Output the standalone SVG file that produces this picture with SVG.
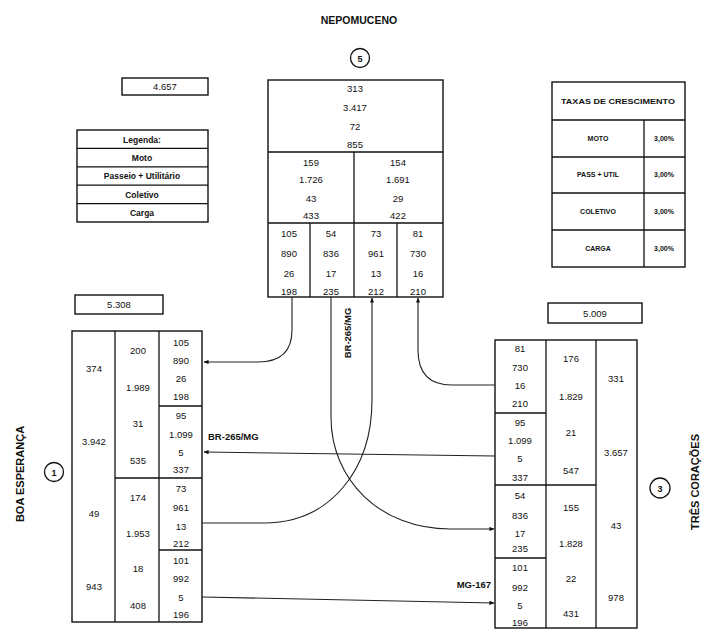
<svg xmlns="http://www.w3.org/2000/svg" width="709" height="633" viewBox="0 0 709 633">
<style>
.bx{fill:none;stroke:#111;stroke-width:1.4}
.ln{stroke:#111;stroke-width:1.3;fill:none}
.cn{stroke:#222;stroke-width:1.1;fill:none}
text{font-family:"Liberation Sans",Arial,sans-serif;fill:#111;text-anchor:middle}
.n{font-size:9.5px}
.b{font-weight:bold}
.lg{font-size:8.5px;font-weight:bold}
.tx{font-size:7px;font-weight:bold}
.city{font-size:11px;font-weight:bold}
</style>
<defs>
<marker id="ar" viewBox="0 0 6 6" refX="5.5" refY="3" markerWidth="5" markerHeight="5" orient="auto" markerUnits="userSpaceOnUse">
<path d="M0,0.5 L6,3 L0,5.5 z" fill="#111"/>
</marker>
</defs>
<rect width="709" height="633" fill="#fff"/>

<g id="nepomuceno">
<text x="359" y="24" class="b" style="font-size:10.5px">NEPOMUCENO</text>
<circle cx="360" cy="58" r="9.5" class="ln" stroke-width="1"/>
<text x="360" y="61.5" class="b" style="font-size:9px">5</text>
<rect x="268" y="80" width="175" height="217" class="bx"/>
<line x1="268" y1="152" x2="443" y2="152" class="ln"/>
<line x1="268" y1="223" x2="443" y2="223" class="ln"/>
<line x1="354" y1="152" x2="354" y2="297" class="ln"/>
<line x1="310" y1="223" x2="310" y2="297" class="ln"/>
<line x1="397" y1="223" x2="397" y2="297" class="ln"/>
<g class="n">
<text x="355" y="92">313</text><text x="355" y="111">3.417</text><text x="355" y="130">72</text><text x="355" y="148">855</text>
<text x="311" y="166">159</text><text x="311" y="183">1.726</text><text x="311" y="202">43</text><text x="311" y="219">433</text>
<text x="398" y="166">154</text><text x="398" y="183">1.691</text><text x="398" y="202">29</text><text x="398" y="219">422</text>
<text x="289" y="237">105</text><text x="289" y="257">890</text><text x="289" y="277">26</text><text x="289" y="295">198</text>
<text x="331" y="237">54</text><text x="331" y="257">836</text><text x="331" y="277">17</text><text x="331" y="295">235</text>
<text x="376" y="237">73</text><text x="376" y="257">961</text><text x="376" y="277">13</text><text x="376" y="295">212</text>
<text x="418" y="237">81</text><text x="418" y="257">730</text><text x="418" y="277">16</text><text x="418" y="295">210</text>
</g>
</g>

<g id="total-nepomuceno">
<rect x="122" y="78" width="86" height="17" class="bx"/>
<text x="165" y="90" class="n">4.657</text>
</g>

<g id="legenda">
<rect x="77" y="130" width="131" height="92" class="bx"/>
<line x1="77" y1="148.4" x2="208" y2="148.4" class="ln"/>
<line x1="77" y1="166.8" x2="208" y2="166.8" class="ln"/>
<line x1="77" y1="185.2" x2="208" y2="185.2" class="ln"/>
<line x1="77" y1="203.6" x2="208" y2="203.6" class="ln"/>
<text x="142" y="142.5" class="lg">Legenda:</text>
<text x="142" y="160.8" class="lg">Moto</text>
<text x="142" y="179.2" class="lg">Passeio + Utilitário</text>
<text x="142" y="197.6" class="lg">Coletivo</text>
<text x="142" y="216" class="lg">Carga</text>
</g>

<g id="taxas">
<rect x="552" y="82" width="133" height="185" class="bx"/>
<line x1="552" y1="120" x2="685" y2="120" class="ln"/>
<line x1="552" y1="157" x2="685" y2="157" class="ln"/>
<line x1="552" y1="193" x2="685" y2="193" class="ln"/>
<line x1="552" y1="230" x2="685" y2="230" class="ln"/>
<line x1="644" y1="120" x2="644" y2="267" class="ln"/>
<text x="618" y="104" class="tx" textLength="114" lengthAdjust="spacingAndGlyphs">TAXAS DE CRESCIMENTO</text>
<text x="598" y="141" class="tx">MOTO</text><text x="664" y="141" class="tx">3,00%</text>
<text x="598" y="177" class="tx">PASS + UTIL</text><text x="664" y="177" class="tx">3,00%</text>
<text x="598" y="214" class="tx">COLETIVO</text><text x="664" y="214" class="tx">3,00%</text>
<text x="598" y="251" class="tx">CARGA</text><text x="664" y="251" class="tx">3,00%</text>
</g>

<g id="boa-esperanca">
<text transform="translate(24,474) rotate(-90)" class="city">BOA ESPERANÇA</text>
<circle cx="54" cy="472" r="9.5" class="ln" stroke-width="1"/>
<text x="54" y="475.5" class="b" style="font-size:9px">1</text>
<rect x="75" y="295" width="88" height="19" class="bx"/>
<text x="119" y="308" class="n">5.308</text>
<rect x="72" y="331" width="130" height="291" class="bx"/>
<line x1="115" y1="331" x2="115" y2="622" class="ln"/>
<line x1="159" y1="331" x2="159" y2="622" class="ln"/>
<line x1="159" y1="406" x2="202" y2="406" class="ln"/>
<line x1="115" y1="478" x2="202" y2="478" class="ln"/>
<line x1="159" y1="550" x2="202" y2="550" class="ln"/>
<g class="n">
<text x="94" y="372">374</text><text x="94" y="445">3.942</text><text x="94" y="517">49</text><text x="94" y="590">943</text>
<text x="138" y="354">200</text><text x="138" y="391">1.989</text><text x="138" y="427">31</text><text x="138" y="464">535</text>
<text x="138" y="501">174</text><text x="138" y="537">1.953</text><text x="138" y="572">18</text><text x="138" y="609">408</text>
<text x="181" y="346">105</text><text x="181" y="364">890</text><text x="181" y="382">26</text><text x="181" y="400">198</text>
<text x="181" y="419">95</text><text x="181" y="438">1.099</text><text x="181" y="456">5</text><text x="181" y="473">337</text>
<text x="181" y="492">73</text><text x="181" y="511">961</text><text x="181" y="530">13</text><text x="181" y="547">212</text>
<text x="181" y="564">101</text><text x="181" y="582">992</text><text x="181" y="601">5</text><text x="181" y="618">196</text>
</g>
</g>

<g id="tres-coracoes">
<text transform="translate(699,482) rotate(-90)" class="city">TRÊS CORAÇÕES</text>
<circle cx="660" cy="488" r="10" class="ln" stroke-width="1"/>
<text x="660" y="491.5" class="b" style="font-size:9px">3</text>
<rect x="548" y="303" width="94" height="20" class="bx"/>
<text x="595" y="317" class="n">5.009</text>
<rect x="495" y="340" width="142" height="288" class="bx"/>
<line x1="546" y1="340" x2="546" y2="628" class="ln"/>
<line x1="596" y1="340" x2="596" y2="628" class="ln"/>
<line x1="495" y1="413" x2="546" y2="413" class="ln"/>
<line x1="495" y1="485" x2="596" y2="485" class="ln"/>
<line x1="495" y1="558" x2="546" y2="558" class="ln"/>
<g class="n">
<text x="520" y="352">81</text><text x="520" y="371">730</text><text x="520" y="389">16</text><text x="520" y="407">210</text>
<text x="520" y="426">95</text><text x="520" y="444">1.099</text><text x="520" y="462">5</text><text x="520" y="481">337</text>
<text x="520" y="499">54</text><text x="520" y="519">836</text><text x="520" y="537">17</text><text x="520" y="552">235</text>
<text x="520" y="571">101</text><text x="520" y="591">992</text><text x="520" y="609">5</text><text x="520" y="626">196</text>
<text x="571" y="362">176</text><text x="571" y="400">1.829</text><text x="571" y="436">21</text><text x="571" y="474">547</text>
<text x="571" y="511">155</text><text x="571" y="547">1.828</text><text x="571" y="582">22</text><text x="571" y="617">431</text>
<text x="616" y="382">331</text><text x="616" y="456">3.657</text><text x="616" y="529">43</text><text x="616" y="601">978</text>
</g>
</g>

<g id="connectors">
<path d="M292,297 L292,330 Q292,362 258,362 L204,362" class="cn" marker-end="url(#ar)"/>
<path d="M495,385 L452,385 Q418,385 418,350 L418,298" class="cn" marker-end="url(#ar)"/>
<path d="M495,456 L204,452" class="cn" marker-end="url(#ar)"/>
<path d="M202,523 L264,523 C330,523 372,470 372,400 L372,298" class="cn" marker-end="url(#ar)"/>
<path d="M331,297 L331,417 C331,480 380,529 450,529 L494,529" class="cn" marker-end="url(#ar)"/>
<path d="M202,597 L494,603" class="cn" marker-end="url(#ar)"/>
<text x="208" y="440" class="b" style="font-size:9.5px;text-anchor:start">BR-265/MG</text>
<text x="491" y="588" class="b" style="font-size:9.5px;text-anchor:end">MG-167</text>
<text transform="translate(350.5,333) rotate(-90)" class="b" style="font-size:9.5px">BR-265/MG</text>
</g>
</svg>
